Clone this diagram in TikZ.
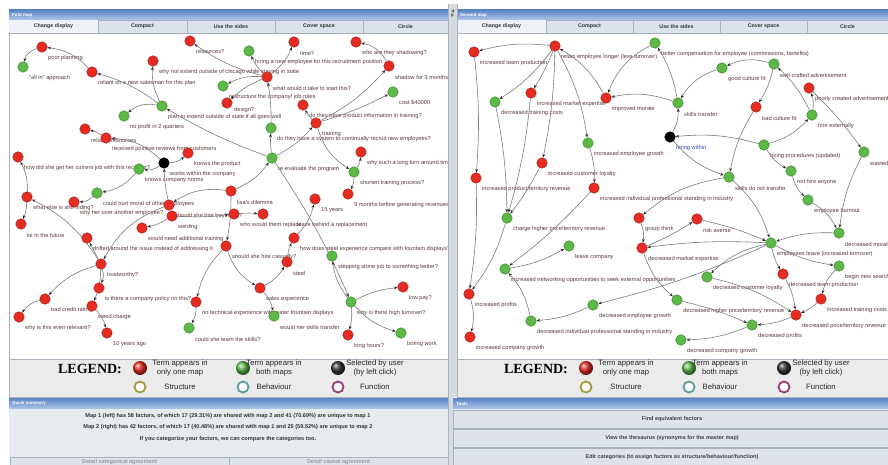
\documentclass[tikz,border=0pt]{standalone}
\usepackage{fontspec}
\setmainfont{Liberation Sans}
\newfontfamily\legendfont{Liberation Serif}
\usetikzlibrary{arrows.meta}
\pgfdeclarelayer{bg}
\pgfdeclarelayer{labels}
\pgfdeclarelayer{edges}
\pgfdeclarelayer{fg}
\pgfsetlayers{bg,labels,edges,main,fg}

\definecolor{nodered}{HTML}{E52B22}
\definecolor{reddark}{HTML}{A8231C}
\definecolor{nodegreen}{HTML}{5DB847}
\definecolor{greendark}{HTML}{3C8A30}
\definecolor{lblcol}{HTML}{5A3A3A}
\definecolor{edgecol}{HTML}{7C7C7C}
\definecolor{barTop}{HTML}{5A84C6}
\definecolor{barBot}{HTML}{AFC6E8}
\definecolor{tabfill}{HTML}{DCE2EB}
\definecolor{tabsel}{HTML}{EEF1F5}
\definecolor{tabline}{HTML}{A9B1BD}
\definecolor{legbg}{HTML}{EBEBEB}
\definecolor{panelbg}{HTML}{E7EAEF}
\definecolor{btnfill}{HTML}{DEE3EA}
\definecolor{divider}{HTML}{D6D9DE}
\definecolor{structcol}{HTML}{A39C3E}
\definecolor{behavcol}{HTML}{5C9C9A}
\definecolor{funccol}{HTML}{963C72}
\definecolor{linkblue}{HTML}{3B46B0}

% factor with its caption at an explicit place: name, x, y, style, caption, caption x, caption y
\newcommand\facat[7]{%
  \begin{pgfonlayer}{labels}\node[lbl] (#1-t) at (#6,#7) {#5};\end{pgfonlayer}%
  \node[#4] (#1) at (#2,#3) {};}
% factor with its caption below right of the dot
\newcommand\fac[5]{\facat{#1}{#2}{#3}{#4}{#5}{#2+6}{#3+11}}

\begin{document}
\begin{tikzpicture}[x=1pt,y=-1pt,
  dot/.style={circle,inner sep=0pt,minimum size=10.5pt,line width=0.5pt},
  rn/.style={dot,fill=nodered,draw=reddark},
  gn/.style={dot,fill=nodegreen,draw=greendark},
  kn/.style={dot,fill=black,draw=black},
  lbl/.style={anchor=west,inner sep=0pt,font=\fontsize{5.7}{6.5}\selectfont,text=lblcol},
  link/.style={draw=edgecol,line width=0.6pt,-{Stealth[length=3.6pt,width=2.8pt,color=black!85]}},
  bar/.style={top color=barTop,bottom color=barBot,draw=none},
  bartext/.style={anchor=west,inner sep=0pt,text=white,font=\fontsize{4.5}{5}\selectfont\bfseries},
  tab/.style={fill=tabfill,draw=tabline,line width=0.4pt},
  tabtext/.style={inner sep=0pt,text=black!80,font=\fontsize{5.3}{6}\selectfont\bfseries},
  legtext/.style={inner sep=0pt,align=center,text=black!85,font=\fontsize{7.7}{9.5}\selectfont},
  legball/.style={circle,inner sep=0pt,minimum size=14pt,shading=ball},
  ring/.style={circle,inner sep=0pt,minimum size=11pt,line width=1.8pt,fill=white},
  sumtext/.style={inner sep=0pt,text=black!80,font=\fontsize{5.6}{6.5}\selectfont\bfseries},
  btn/.style={fill=btnfill,draw=tabline,line width=0.4pt},
  btntext/.style={inner sep=0pt,text=black!75,font=\fontsize{5.5}{6.5}\selectfont\bfseries},
  dimtext/.style={inner sep=0pt,text=black!40,font=\fontsize{5.5}{6.5}\selectfont\bfseries}]

\useasboundingbox (0,0) rectangle (888,465);

% ---------------- window chrome ----------------
\begin{pgfonlayer}{bg}
\fill[white] (0,0) rectangle (888,465);
% left panel
\fill[bar] (9,10) rectangle (448,20);
\node[bartext] (ttl1) at (12,15) {First map};
\foreach \x/\w/\t [count=\i] in {9/89/Change display,98/89/Compact,187/88/Use the sides,275/88/Cover space,363/85/Circle}{
  \draw[tab] (\x,20) rectangle ++(\w,13);
  \node[tabtext] (ltab\i) at (\x+\w/2,26.5) {\t};}
\fill[tabsel] (9.3,20.3) rectangle (97.7,32.7);
\node[tabtext] (ltabsel) at (53.5,26.5) {Change display};
\draw[tabline,fill=white,line width=0.4pt] (9,33) rectangle (448,359);
\draw[tabline,fill=legbg,line width=0.4pt] (9,359) rectangle (448,397);
% right panel
\fill[bar] (457,10) rectangle (888,20);
\node[bartext] (ttl2) at (460,15) {Second map};
\foreach \x/\w/\t [count=\i] in {457/89/Change display,546/87/Compact,633/87/Use the sides,720/87/Cover space,807/81/Circle}{
  \draw[tab] (\x,20) rectangle ++(\w,13);
  \node[tabtext] (rtab\i) at (\x+\w/2,26.5) {\t};}
\fill[tabsel] (457.3,20.3) rectangle (545.7,32.7);
\node[tabtext] (rtabsel) at (501.5,26.5) {Change display};
\draw[tabline,fill=white,line width=0.4pt] (457,33) rectangle (888,359);
\draw[tabline,fill=legbg,line width=0.4pt] (457,359) rectangle (888,397);
% quick summary
\fill[bar] (9,398) rectangle (448,409);
\node[bartext] (ttl3) at (12,403.5) {Quick summary};
\fill[panelbg] (9,409) rectangle (448,457);
\node[sumtext] (sum1) at (228,416) {Map 1 (left) has 58 factors, of which 17 (29.31\%) are shared with map 2 and 41 (70.69\%) are unique to map 1};
\node[sumtext] (sum2) at (228,427.5) {Map 2 (right) has 42 factors, of which 17 (40.48\%) are shared with map 1 and 25 (59.52\%) are unique to map 2};
\node[sumtext] (sum3) at (228,439) {If you categorize your factors, we can compare the categories too.};
\draw[btn] (10,457) rectangle (229,468);
\draw[btn] (229,457) rectangle (448,468);
\node[dimtext] (bt1) at (119.5,462) {Detail categorical agreement};
\node[dimtext] (bt2) at (338.5,462) {Detail causal agreement};
% tools
\fill[bar] (453,398) rectangle (888,409);
\node[bartext] (ttl4) at (456,403.5) {Tools};
\fill[panelbg] (453,409) rectangle (888,465);
\draw[btn] (453,410) rectangle (888,428);
\draw[btn] (453,429) rectangle (888,447);
\draw[btn] (453,448) rectangle (888,468);
\node[btntext] (tl1) at (672,419) {Find equivalent factors};
\node[btntext] (tl2) at (672,438) {View the thesaurus (synonyms for the master map)};
\node[btntext] (tl3) at (672,457.5) {Edit categories (to assign factors as structure/behaviour/function)};
\end{pgfonlayer}

% split pane divider, drawn on top so long captions stop at the pane edge
\begin{pgfonlayer}{fg}
\fill[divider] (448.2,4) rectangle (456.8,397);
\fill[divider] (448.2,397) rectangle (452.8,465);
\draw[tabline,line width=0.4pt] (448.2,4) -- (448.2,465) (456.8,4) -- (456.8,397);
\fill[black!55] (451,11) -- (454,9) -- (454,13) -- cycle;
\fill[black!55] (454,15) -- (451,13) -- (451,17) -- cycle;
\end{pgfonlayer}

% ---------------- legends ----------------
\foreach \o/\s in {0/l,446/r}{
  \node[inner sep=0pt,font=\legendfont\fontsize{14}{14}\selectfont\bfseries] (\s leg) at (90+\o,369) {LEGEND:};
  \node[legball,ball color=nodered] (\s lr) at (140+\o,368) {};
  \node[legtext] (\s lrt) at (180+\o,368) {Term appears in\\only one map};
  \node[legball,ball color=nodegreen] (\s lg) at (243+\o,368) {};
  \node[legtext] (\s lgt) at (274+\o,368) {Term appears in\\both maps};
  \node[legball,ball color=black!80] (\s lk) at (338+\o,368) {};
  \node[legtext] (\s lkt) at (375+\o,368) {Selected by user\\(by left click)};
  \node[ring,draw=structcol] (\s ls) at (140+\o,387) {};
  \node[legtext] (\s lst) at (180+\o,387) {Structure};
  \node[ring,draw=behavcol] (\s lb) at (243+\o,387) {};
  \node[legtext] (\s lbt) at (274+\o,387) {Behaviour};
  \node[ring,draw=funccol] (\s lf) at (338+\o,387) {};
  \node[legtext] (\s lft) at (375+\o,387) {Function};
}

% ---------------- first map ----------------
\fac{l1}{42}{47}{rn}{poor planning}
\fac{l2}{23}{67}{gn}{``all in'' approach}
\fac{l3}{92}{72}{rn}{reliant on a new salesman for this plan}
\fac{l4}{153}{61}{rn}{why not extend outside of chicago while staying in state}
\fac{l5}{162}{106}{gn}{plan to extend outside of state if all goes well}
\fac{l6}{124}{116}{gn}{no profit in 2 quarters}
\fac{l7}{85}{129}{rn}{reliable resources}
\fac{l8}{106}{138}{rn}{received positive reviews from customers}
\fac{l9}{18}{157}{rn}{how did she get her current job with this recruiter?}
\fac{l10}{164}{163}{kn}{works within the company}
\fac{l11}{188}{153}{rn}{knows the product}
\fac{l12}{139}{169}{gn}{knows company norms}
\fac{l13}{97}{193}{gn}{could hurt moral of other employees}
\fac{l14}{74}{202}{rn}{why her over another employee?}
\fac{l15}{27}{197}{rn}{what else is she hiding?}
\fac{l16}{21}{224}{rn}{lie in the future}
\fac{l17}{169}{205}{rn}{should she hire boyfriend?}
\fac{l18}{172}{216}{rn}{welding}
\fac{l19}{142}{228}{rn}{would need additional training}
\fac{l20}{87}{238}{rn}{drifted around the issue instead of addressing it}
\fac{l21}{101}{264}{rn}{trustworthy?}
\fac{l22}{99}{288}{rn}{is there a company policy on this?}
\fac{l23}{45}{299}{rn}{bad credit rating}
\fac{l24}{92}{306}{rn}{weed charge}
\fac{l25}{19}{317}{rn}{why is this even relevant?}
\fac{l26}{107}{333}{rn}{10 years ago}
\fac{l27}{196}{302}{rn}{no technical experience with water fountain displays}
\fac{l28}{189}{328}{gn}{could she learn the skills?}
\fac{l29}{226}{246}{rn}{should she hire casually?}
\fac{l30}{231}{191}{rn}{lisa's dilemma}
\fac{l31}{234}{214}{rn}{who would them replace}
\facat{l32}{263}{214}{rn}{leave behind a replacement}{297}{225}
\fac{l33}{287}{262}{rn}{steel}
\fac{l34}{294}{238}{rn}{how does steel experience compare with fountain displays?}
\fac{l35}{260}{288}{rn}{sales experience}
\fac{l36}{274}{316}{gn}{would her skills transfer}
\fac{l37}{315}{199}{rn}{15 years}
\fac{l38}{348}{194}{rn}{9 months before generating revenues}
\fac{l39}{332}{256}{gn}{stepping stone job to something better?}
\fac{l40}{351}{302}{gn}{why is there high turnover?}
\fac{l41}{403}{287}{rn}{low pay?}
\fac{l42}{348}{335}{rn}{long hours?}
\fac{l43}{401}{333}{gn}{boring work}
\fac{l44}{272}{158}{gn}{re-evaluate the program}
\fac{l45}{271}{128}{gn}{do they have a system to continually recruit new employees?}
\fac{l46}{303}{105}{rn}{do they have product information in training?}
\fac{l47}{316}{123}{rn}{training}
\fac{l48}{361}{152}{rn}{why such a long turn around time?}
\fac{l49}{354}{172}{gn}{shorten training process?}
\fac{l50}{393}{92}{gn}{cost \$40000}
\fac{l51}{389}{66}{rn}{shadow for 3 months}
\fac{l52}{356}{42}{rn}{who are they shadowing?}
\fac{l53}{294}{42}{rn}{time?}
\fac{l54}{249}{51}{gn}{hiring a new employee for this recruitment position}
\fac{l55}{267}{77}{rn}{what would it take to start this?}
\fac{l56}{223}{86}{gn}{restructure the company/ job roles}
\facat{l57}{227}{103}{rn}{design?}{234}{110}
\fac{l58}{190}{41}{rn}{resources?}

% ---------------- second map ----------------
\fac{r1}{474}{52}{rn}{increased team production}
\fac{r2}{555}{46}{rn}{retain employee longer (less turnover)}
\fac{r3}{655}{43}{gn}{better compensation for employee (commissions, benefits)}
\fac{r4}{531}{93}{rn}{increased market expertise}
\fac{r5}{495}{102}{gn}{decreased training costs}
\fac{r6}{606}{98}{rn}{improved morale}
\fac{r7}{678}{103}{gn}{skills transfer}
\fac{r8}{670}{137}{kn}{\color{linkblue}hiring within}
\fac{r9}{588}{143}{gn}{increased employee growth}
\fac{r10}{542}{163}{rn}{increased customer loyalty}
\fac{r11}{476}{178}{rn}{increased product/territory revenue}
\fac{r12}{594}{188}{rn}{increased individual professional standing in industry}
\fac{r13}{722}{68}{gn}{good culture fit}
\fac{r14}{774}{64}{gn}{well crafted advertisement}
\fac{r15}{809}{88}{rn}{poorly created advertisement}
\fac{r16}{756}{107}{rn}{bad culture fit}
\fac{r17}{812}{115}{gn}{hire externally}
\fac{r18}{764}{145}{gn}{hiring procedures (updated)}
\fac{r19}{864}{152}{gn}{wasted resources}
\fac{r20}{791}{171}{gn}{not hire anyone}
\fac{r21}{729}{177}{gn}{skills do not transfer}
\fac{r22}{808}{200}{gn}{employee burnout}
\fac{r23}{697}{219}{rn}{risk averse}
\fac{r24}{839}{233}{gn}{decreased morale}
\fac{r25}{771}{243}{gn}{employees leave (increased turnover)}
\fac{r26}{839}{266}{gn}{begin new search}
\fac{r27}{783}{274}{rn}{decreased team production}
\fac{r28}{707}{277}{gn}{decreased customer loyalty}
\fac{r29}{821}{299}{rn}{increased training costs}
\fac{r30}{677}{300}{gn}{decreased higher price/territory revenue}
\fac{r31}{796}{315}{rn}{decreased price/territory revenue}
\fac{r32}{752}{325}{gn}{decreased profits}
\fac{r33}{681}{340}{gn}{decreased company growth}
\fac{r34}{507}{218}{gn}{charge higher price/territory revenue}
\fac{r35}{569}{246}{gn}{leave company}
\fac{r36}{505}{269}{gn}{increased networking opportunities to seek external opportunities}
\fac{r37}{639}{218}{rn}{group think}
\fac{r38}{642}{248}{rn}{decreased market expertise}
\fac{r39}{469}{294}{rn}{increased profits}
\fac{r40}{593}{305}{gn}{decreased employee growth}
\fac{r41}{531}{321}{gn}{decreased individual professional standing in industry}
\fac{r42}{470}{337}{rn}{increased company growth}

% ---------------- causal links ----------------
\begin{pgfonlayer}{edges}
\foreach \a/\b/\c in {
  l1/l2/-30, l3/l1/-20, l5/l3/-10, l5/l4/15, l5/l6/-25, l44/l5/5,
  l10/l8/-20, l8/l7/-10, l10/l11/-20, l10/l12/20, l12/l13/20, l13/l14/20,
  l17/l10/5, l30/l17/-20, l17/l21/-20, l18/l19/10, l18/l31/-5, l31/l32/5,
  l21/l15/-15, l15/l16/10, l15/l9/-15, l21/l20/0, l21/l23/-15, l23/l25/-20,
  l21/l22/20, l21/l24/10, l24/l26/15, l30/l29/5, l30/l44/-15, l29/l27/-15,
  l27/l28/15, l29/l35/-20, l35/l33/-15, l33/l34/10, l34/l37/-15, l35/l36/15,
  l44/l40/5, l40/l39/15, l40/l41/10, l40/l42/10, l40/l43/-15,
  l44/l45/5, l45/l55/-5, l55/l54/10, l55/l53/-15, l55/l56/-15, l55/l57/-10,
  l55/l58/10, l44/l47/-10, l47/l46/10, l47/l51/-10, l51/l52/-25, l47/l50/-5,
  l47/l49/-20, l49/l48/-15, l49/l38/15}
  \draw[link] (\a) to[bend left=\c] (\b);
\foreach \a/\b/\c in {
  r2/r1/-10, r2/r5/10, r2/r4/5, r2/r10/5, r2/r9/10, r6/r2/-15, r3/r6/-20,
  r7/r6/-15, r7/r3/-10, r13/r7/-20, r14/r13/-20, r14/r16/10, r17/r14/-10,
  r17/r15/-15, r18/r17/-15, r18/r8/-10, r18/r20/-15, r20/r22/-15, r15/r19/5,
  r19/r24/-10, r22/r24/15, r24/r25/-10, r16/r21/-10, r8/r21/-15, r8/r7/-15,
  r21/r25/15, r21/r37/-15, r9/r12/10, r37/r38/15, r25/r38/-5, r38/r23/-5,
  r23/r25/5, r38/r30/-15, r25/r28/-15, r25/r27/-10, r25/r26/-10, r25/r40/5,
  r27/r31/10, r29/r31/10, r26/r29/-15, r28/r31/10, r30/r32/5, r31/r32/10,
  r32/r33/10, r40/r41/10, r41/r36/-15, r36/r35/-10, r12/r36/5, r5/r34/5,
  r4/r34/5, r10/r34/5, r1/r11/5, r11/r39/5, r34/r39/10, r39/r42/15}
  \draw[link] (\a) to[bend left=\c] (\b);
\end{pgfonlayer}
\end{tikzpicture}
\end{document}
